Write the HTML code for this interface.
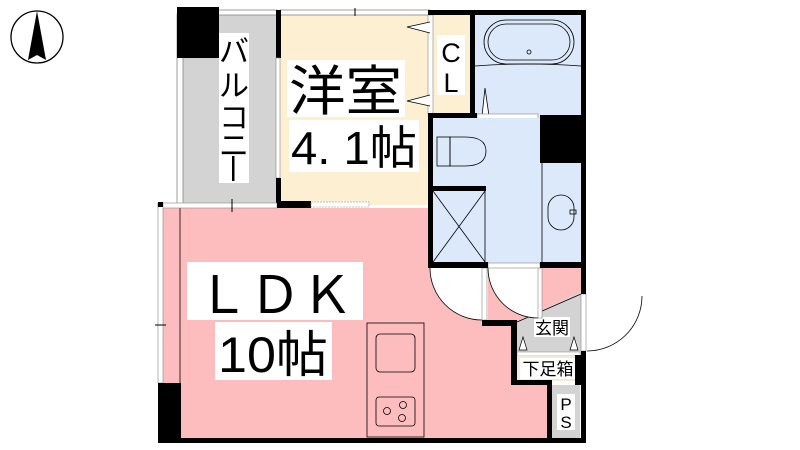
<!DOCTYPE html>
<html><head><meta charset="utf-8"><style>
html,body{margin:0;padding:0;background:#fff;width:800px;height:450px;overflow:hidden}
svg{display:block}
text{font-family:"Liberation Sans","Noto Sans CJK JP",sans-serif;fill:#000}
</style></head><body>
<svg width="800" height="450" viewBox="0 0 800 450" xmlns="http://www.w3.org/2000/svg">
<!-- compass -->
<circle cx="37" cy="37" r="26" fill="none" stroke="#000" stroke-width="1.3"/>
<polygon points="37,11 28,60 37,55 46,60" fill="#000"/>
<!-- balcony -->
<rect x="183" y="14" width="94" height="191" fill="#d3d3d3"/>
<rect x="177" y="14" width="6" height="191" fill="#fff" stroke="#888" stroke-width="0.8"/>
<rect x="183" y="10" width="94" height="5" fill="#fff" stroke="#888" stroke-width="0.8"/>
<rect x="177" y="7" width="42" height="51" fill="#000"/>
<rect x="219" y="33" width="30" height="150" fill="#fff"/>
<text x="234" y="62" font-size="30" text-anchor="middle">バ</text>
<text x="234" y="96" font-size="30" text-anchor="middle">ル</text>
<text x="234" y="128" font-size="30" text-anchor="middle">コ</text>
<text x="234" y="156" font-size="30" text-anchor="middle">ニ</text>
<rect x="232" y="156" width="2.5" height="25" fill="#000"/>
<!-- western room -->
<rect x="280" y="14" width="150" height="191" fill="#fdf0d2"/>
<rect x="280" y="10" width="150" height="5" fill="#fff" stroke="#888" stroke-width="0.8"/>
<line x1="355" y1="8" x2="355" y2="16" stroke="#000"/>
<rect x="276" y="10" width="5" height="48" fill="#000"/>
<rect x="276" y="58" width="4" height="120" fill="#fff" stroke="#888" stroke-width="0.6"/>
<rect x="276" y="178" width="5" height="28" fill="#000"/>
<rect x="287" y="60" width="118" height="57" fill="#fff"/>
<text x="289" y="110" font-size="54" textLength="113" lengthAdjust="spacingAndGlyphs">洋室</text>
<rect x="289" y="120" width="130" height="52" fill="#fff"/>
<text x="291" y="164" font-size="46" textLength="126" lengthAdjust="spacingAndGlyphs">4. 1帖</text>
<!-- closet -->
<rect x="433" y="15" width="37" height="100" fill="#fdf0d2"/>
<rect x="428" y="15" width="5" height="100" fill="#fff" stroke="#888" stroke-width="0.6"/>
<polyline points="430,22 407,27 430,33" fill="#fff" stroke="#000" stroke-width="0.8"/>
<polyline points="430,95 407,101 430,106" fill="#fff" stroke="#000" stroke-width="0.8"/>
<rect x="437" y="35" width="28" height="60" fill="#fff"/>
<text x="451" y="62" font-size="27" text-anchor="middle">C</text>
<text x="451" y="92" font-size="27" text-anchor="middle">L</text>
<!-- bath -->
<rect x="475" y="15" width="106" height="103" fill="#dce9fb"/>
<rect x="484" y="20" width="90" height="44" rx="22" fill="none" stroke="#000" stroke-width="0.8"/>
<rect x="488" y="24" width="82" height="36" rx="18" fill="none" stroke="#000" stroke-width="0.8"/>
<circle cx="529" cy="52" r="2" fill="none" stroke="#000" stroke-width="0.8"/>
<path d="M475 66 Q528 62 581 66" fill="none" stroke="#000" stroke-width="0.8"/>
<polygon points="482,116 485,88 489,116" fill="#fff" stroke="#000" stroke-width="0.8"/>
<rect x="477" y="114" width="61" height="5" fill="#fff" stroke="#888" stroke-width="0.6"/>
<!-- toilet / wash -->
<rect x="433" y="118" width="148" height="145" fill="#dce9fb"/>
<rect x="540" y="115" width="45" height="48" fill="#000"/>
<line x1="542" y1="163" x2="542" y2="263" stroke="#000" stroke-width="0.8"/>
<rect x="548" y="195" width="26" height="35" rx="13" fill="none" stroke="#000" stroke-width="0.8"/>
<rect x="570" y="210" width="6" height="4" fill="none" stroke="#000" stroke-width="0.8"/>
<path d="M450 137 H465 Q486 137 486 151 Q486 166 465 166 H450 Z" fill="none" stroke="#000" stroke-width="0.8"/>
<rect x="437" y="137" width="13" height="29" fill="none" stroke="#000" stroke-width="0.8"/>
<rect x="433" y="188" width="52" height="75" fill="#dce9fb"/>
<rect x="430" y="186" width="56" height="5" fill="#000"/>
<line x1="433" y1="191" x2="485" y2="262" stroke="#000" stroke-width="0.8"/>
<line x1="485" y1="191" x2="433" y2="262" stroke="#000" stroke-width="0.8"/>
<line x1="485" y1="191" x2="485" y2="263" stroke="#000" stroke-width="0.8"/>
<!-- LDK -->
<polygon points="163,208 430,208 430,268 482,268 482,325 511,325 511,385 548,385 548,438 163,438" fill="#fdbcbd"/>
<polygon points="488,268 581,268 581,292 517,322 517,320 488,320" fill="#fdbcbd"/>
<line x1="180" y1="208" x2="180" y2="383" stroke="#000" stroke-width="0.8"/>
<rect x="158" y="203" width="119" height="5" fill="#fff" stroke="#888" stroke-width="0.6"/>
<rect x="158" y="203" width="5" height="180" fill="#fff" stroke="#888" stroke-width="0.6"/>
<rect x="158" y="202" width="5" height="5" fill="#000"/>
<line x1="232" y1="199" x2="232" y2="212" stroke="#000"/>
<line x1="155" y1="325" x2="166" y2="325" stroke="#000"/>
<rect x="158" y="383" width="23" height="60" fill="#000"/>
<rect x="277" y="201" width="34" height="7" fill="#000"/>
<rect x="311" y="202" width="58" height="5" fill="#fff" stroke="#888" stroke-width="0.6" stroke-dasharray="2,1"/>
<rect x="187" y="262" width="176" height="58" fill="#fff"/>
<text x="275" y="313" font-size="52" text-anchor="middle">ＬＤＫ</text>
<rect x="215" y="322" width="117" height="58" fill="#fff"/>
<text x="273" y="372" font-size="50" text-anchor="middle" textLength="110" lengthAdjust="spacingAndGlyphs">10帖</text>
<!-- kitchen -->
<rect x="367" y="323" width="57" height="114" fill="none" stroke="#000" stroke-width="0.8"/>
<rect x="376" y="334" width="39" height="38" rx="4" fill="none" stroke="#000" stroke-width="0.8"/>
<rect x="376" y="397" width="39" height="29" rx="3" fill="none" stroke="#000" stroke-width="0.8"/>
<circle cx="387" cy="411" r="3.5" fill="none" stroke="#000" stroke-width="0.8"/>
<circle cx="403" cy="405" r="3.5" fill="none" stroke="#000" stroke-width="0.8"/>
<circle cx="402" cy="418" r="3.5" fill="none" stroke="#000" stroke-width="0.8"/>
<!-- genkan -->
<polygon points="517,322 581,292 581,355 517,355" fill="#d3d3d3"/>
<line x1="517" y1="322" x2="581" y2="294" stroke="#000" stroke-width="0.8"/>
<rect x="534" y="317" width="36" height="20" fill="#fff"/>
<text x="552" y="334" font-size="17" text-anchor="middle">玄関</text>
<polygon points="519,350 523,337 527,350" fill="#fff" stroke="#000" stroke-width="0.7"/>
<polygon points="570,350 574,337 578,350" fill="#fff" stroke="#000" stroke-width="0.7"/>
<rect x="517" y="352" width="63" height="4" fill="#fff" stroke="#888" stroke-width="0.5"/>
<rect x="517" y="356" width="63" height="25" fill="#f5ead6"/>
<rect x="520" y="358" width="57" height="21" fill="#fff"/>
<text x="548" y="375" font-size="17" text-anchor="middle">下足箱</text>
<!-- PS -->
<rect x="552" y="385" width="28" height="53" fill="#d3d3d3"/>
<rect x="557" y="394" width="18" height="36" fill="#fff"/>
<text x="566" y="410" font-size="17" text-anchor="middle">P</text>
<text x="566" y="428" font-size="17" text-anchor="middle">S</text>
<!-- doors -->
<path d="M482 268 L430 268 A52 52 0 0 0 482 320 Z" fill="#fff" stroke="none"/>
<path d="M430 268 A52 52 0 0 0 482 320" fill="none" stroke="#000" stroke-width="0.8"/>
<rect x="482" y="268" width="5" height="52" fill="#fff" stroke="#888" stroke-width="0.6"/>
<path d="M538 268 L488 268 A50 50 0 0 0 538 318 Z" fill="#fff" stroke="none"/>
<path d="M488 268 A50 50 0 0 0 538 318" fill="none" stroke="#000" stroke-width="0.8"/>
<rect x="538" y="268" width="4" height="50" fill="#fff" stroke="#888" stroke-width="0.6"/>
<rect x="488" y="263" width="52" height="5" fill="#fff" stroke="#888" stroke-width="0.6"/>
<path d="M586 296 L642 296 A55 55 0 0 1 586 351 Z" fill="#fff"/>
<path d="M642 296 A55 55 0 0 1 587 351" fill="none" stroke="#000" stroke-width="0.8"/>
<rect x="581" y="294" width="5" height="57" fill="#fff" stroke="#888" stroke-width="0.6"/>
<!-- walls -->
<g fill="#000">
<rect x="428" y="10" width="158" height="5"/>
<rect x="581" y="10" width="5" height="284"/>
<rect x="581" y="351" width="5" height="92"/>
<rect x="158" y="438" width="428" height="5"/>
<rect x="470" y="15" width="5" height="103"/>
<rect x="428" y="113" width="49" height="5"/>
<rect x="428" y="113" width="5" height="155"/>
<rect x="428" y="262" width="60" height="6"/>
<rect x="540" y="262" width="46" height="6"/>
<rect x="482" y="320" width="35" height="6"/>
<rect x="511" y="320" width="6" height="65"/>
<rect x="511" y="380" width="41" height="5"/>
<rect x="547" y="380" width="5" height="60"/>
<rect x="575" y="355" width="6" height="30"/>
</g>
</svg>
</body></html>
